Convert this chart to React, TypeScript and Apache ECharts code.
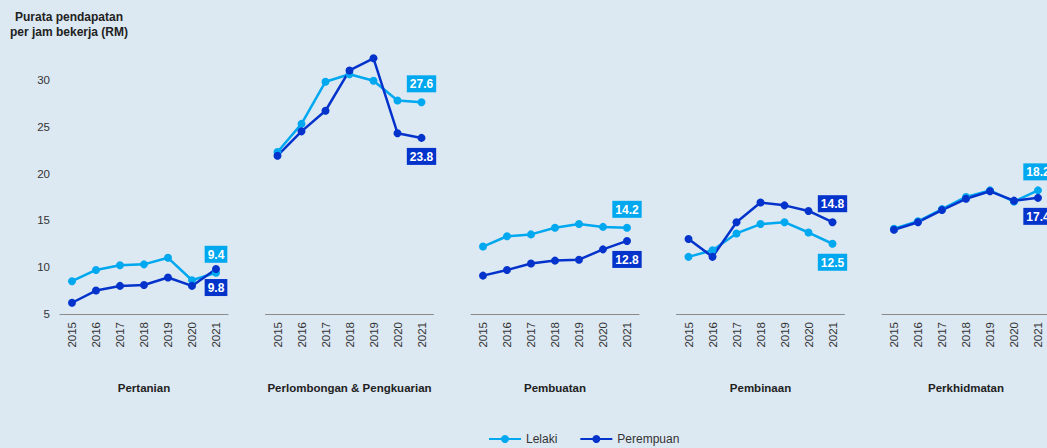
import React, { useEffect, useRef } from "react";
import * as echarts from "echarts";

const years = ["2015", "2016", "2017", "2018", "2019", "2020", "2021"];
const sectors = ["Pertanian", "Perlombongan & Pengkuarian", "Pembuatan", "Pembinaan", "Perkhidmatan"];
const yTicks = [5, 10, 15, 20, 25, 30];

const lelaki: number[][] = [
  [8.5, 9.7, 10.2, 10.3, 11.0, 8.6, 9.4],
  [22.3, 25.3, 29.8, 30.6, 29.9, 27.8, 27.6],
  [12.2, 13.3, 13.5, 14.2, 14.6, 14.3, 14.2],
  [11.1, 11.8, 13.6, 14.6, 14.8, 13.7, 12.5],
  [14.1, 14.9, 16.2, 17.5, 18.2, 17.0, 18.2],
];
const perempuan: number[][] = [
  [6.2, 7.5, 8.0, 8.1, 8.9, 8.0, 9.8],
  [21.9, 24.5, 26.7, 31.0, 32.3, 24.3, 23.8],
  [9.1, 9.7, 10.4, 10.7, 10.8, 11.9, 12.8],
  [13.0, 11.1, 14.8, 16.9, 16.6, 16.0, 14.8],
  [14.0, 14.8, 16.1, 17.3, 18.1, 17.1, 17.4],
];
// whether Lelaki's end label sits above (true) or below
const lelakiLabelTop = [true, true, true, false, true];

const LIGHT = "#00A8F0";
const DARK = "#0433CC";
const FONT = "Liberation Sans, Arial";

export default function App() {
  const ref = useRef<HTMLDivElement>(null);
  useEffect(() => {
    if (!ref.current) return;
    const chart = echarts.init(ref.current, undefined, { renderer: "svg" });
    const lefts = [60, 265.5, 471, 676.5, 882];
    const grids = lefts.map((l) => ({ left: l, top: 33, width: 168, height: 281, containLabel: false }));
    const xAxes = sectors.map((s, i) => ({
      type: "category",
      gridIndex: i,
      data: years,
      boundaryGap: true,
      axisLine: { show: true, lineStyle: { color: "#8a8a8a", width: 1 } },
      axisTick: { show: false },
      axisLabel: { rotate: 90, color: "#333", fontSize: 11.5, margin: 8, fontFamily: FONT },
      name: s,
      nameLocation: "middle",
      nameGap: 68,
      nameTextStyle: { color: "#222", fontSize: 11.5, fontWeight: "bold", fontFamily: FONT },
    }));
    const yAxes = sectors.map((_, i) => ({
      type: "value",
      gridIndex: i,
      min: 5,
      max: 35,
      interval: 5,
      show: i === 0,
      axisLine: { show: false },
      axisTick: { show: false },
      splitLine: { show: false },
      axisLabel: {
        show: i === 0,
        color: "#333",
        fontSize: 11.5,
        margin: 10,
        fontFamily: FONT,
        formatter: (v: number) => (yTicks.includes(v) ? String(v) : ""),
      },
    }));
    const mkLabel = (color: string, top: boolean) => ({
      show: true,
      position: top ? "top" : "bottom",
      distance: 6,
      backgroundColor: color,
      color: "#fff",
      fontWeight: "bold",
      fontSize: 12,
      fontFamily: FONT,
      padding: [3, 3, 2, 3],
      formatter: (p: any) => p.value.toFixed(1),
    });
    const series: any[] = [];
    sectors.forEach((_, i) => {
      const lastIdx = years.length - 1;
      series.push({
        name: "Lelaki",
        type: "line",
        xAxisIndex: i,
        yAxisIndex: i,
        symbol: "circle",
        symbolSize: 8,
        lineStyle: { width: 2.5, color: LIGHT },
        itemStyle: { color: LIGHT },
        data: lelaki[i].map((v, k) =>
          k === lastIdx ? { value: v, label: mkLabel(LIGHT, lelakiLabelTop[i]) } : v
        ),
      });
      series.push({
        name: "Perempuan",
        type: "line",
        xAxisIndex: i,
        yAxisIndex: i,
        symbol: "circle",
        symbolSize: 8,
        lineStyle: { width: 2.5, color: DARK },
        itemStyle: { color: DARK },
        data: perempuan[i].map((v, k) =>
          k === lastIdx ? { value: v, label: mkLabel(DARK, !lelakiLabelTop[i]) } : v
        ),
      });
    });
    chart.setOption({
      animation: false,
      backgroundColor: "#DCE8F2",
      title: {
        text: "Purata pendapatan\nper jam bekerja (RM)",
        left: 64,
        top: 4,
        textAlign: "center",
        textStyle: { fontSize: 12, fontWeight: "bold", lineHeight: 15, color: "#222", fontFamily: FONT },
      },
      legend: {
        left: 483,
        top: 428,
        itemWidth: 32,
        itemHeight: 10,
        itemGap: 22,
        textStyle: { color: "#333", fontSize: 12, fontFamily: FONT },
        data: ["Lelaki", "Perempuan"],
      },
      grid: grids,
      xAxis: xAxes,
      yAxis: yAxes,
      series,
    });
    return () => chart.dispose();
  }, []);
  return (
    <div style={{ position: "absolute", left: 0, top: 0, width: 1047, height: 448, overflow: "hidden", background: "#DCE8F2" }}>
      <div ref={ref} style={{ width: 1070, height: 448 }} />
    </div>
  );
}
